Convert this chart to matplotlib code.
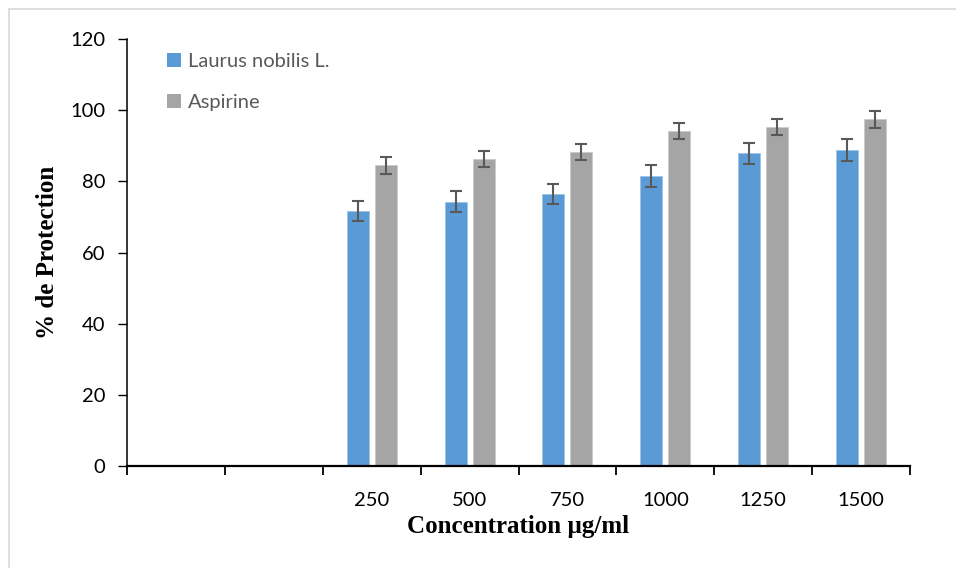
import matplotlib
matplotlib.use("Agg")
import matplotlib.pyplot as plt
import numpy as np
from matplotlib.lines import Line2D
from matplotlib.patches import Patch

categories = ["", "", "250", "500", "750", "1000", "1250", "1500"]
laurus = [np.nan, np.nan, 71.7, 74.3, 76.4, 81.5, 87.9, 88.8]
laurus_err = [np.nan, np.nan, 2.9, 3.0, 2.9, 3.1, 3.0, 3.1]
aspirine = [np.nan, np.nan, 84.5, 86.2, 88.2, 94.1, 95.3, 97.5]
aspirine_err = [np.nan, np.nan, 2.3, 2.3, 2.2, 2.3, 2.3, 2.4]
series_names = ["Laurus nobilis L.", "Aspirine"]
yticks = [0, 20, 40, 60, 80, 100, 120]

BLUE = "#5B9BD5"
GRAY = "#A5A5A5"
ERR = "#595959"
TXT = "#595959"
sans = ["Lato", "DejaVu Sans"]
serif = ["Liberation Serif", "DejaVu Serif"]

fig = plt.figure(figsize=(9.56, 5.68), dpi=100)
ax = fig.add_axes([127/956, 1-466/568, 783/956, 427/568])

x = np.arange(len(categories))
w = 0.225
off = 0.143
ax.bar(x - off, laurus, width=w, color=BLUE, edgecolor="#9DC3E6", linewidth=0.6, zorder=2)
ax.bar(x + off, aspirine, width=w, color=GRAY, edgecolor="#C9C9C9", linewidth=0.6, zorder=2)
ax.errorbar(x - off, laurus, yerr=laurus_err, fmt="none", ecolor=ERR, elinewidth=1.5,
            capsize=4.3, capthick=1.5, zorder=3)
ax.errorbar(x + off, aspirine, yerr=aspirine_err, fmt="none", ecolor=ERR, elinewidth=1.5,
            capsize=4.3, capthick=1.5, zorder=3)

ax.set_xlim(-0.5, len(categories) - 0.5)
ax.set_ylim(0, 120)
ax.set_yticks(yticks)
ax.set_yticklabels([str(v) for v in yticks], family=sans, fontsize=14.5, color="black")
ax.tick_params(axis="y", direction="out", length=6.5, width=1, pad=9, color="black")

ax.set_xticks(x)
ax.set_xticklabels(categories, family=sans, fontsize=14.5, color="black")
ax.tick_params(axis="x", which="major", length=0, pad=19)
ax.set_xticks(np.arange(-0.5, len(categories)), minor=True)
ax.tick_params(axis="x", which="minor", direction="out", length=6.5, width=1.3, color="black")

for s in ["top", "right"]:
    ax.spines[s].set_visible(False)
ax.spines["left"].set_linewidth(1.1)
ax.spines["bottom"].set_linewidth(1.6)

ax.set_xlabel("Concentration µg/ml", family=serif, fontweight="bold", fontsize=18, labelpad=4)
ax.set_ylabel("% de Protection", family=serif, fontweight="bold", fontsize=18, labelpad=8)

handles = [Patch(facecolor=BLUE), Patch(facecolor=GRAY)]
leg = ax.legend(handles, series_names, loc="upper left", bbox_to_anchor=(0.028, 1.01),
                frameon=False, prop={"family": sans, "size": 14.5}, labelcolor=TXT,
                handlelength=0.7, handleheight=0.7, handletextpad=0.35, labelspacing=1.2)

# light border of the figure (left and top)
fig.add_artist(Line2D([9/956, 9/956], [0, 1-9/568], color="#D9D9D9", lw=1.2, transform=fig.transFigure))
fig.add_artist(Line2D([9/956, 1], [1-9/568, 1-9/568], color="#D9D9D9", lw=1.2, transform=fig.transFigure))

fig.savefig("out.png", dpi=100)
